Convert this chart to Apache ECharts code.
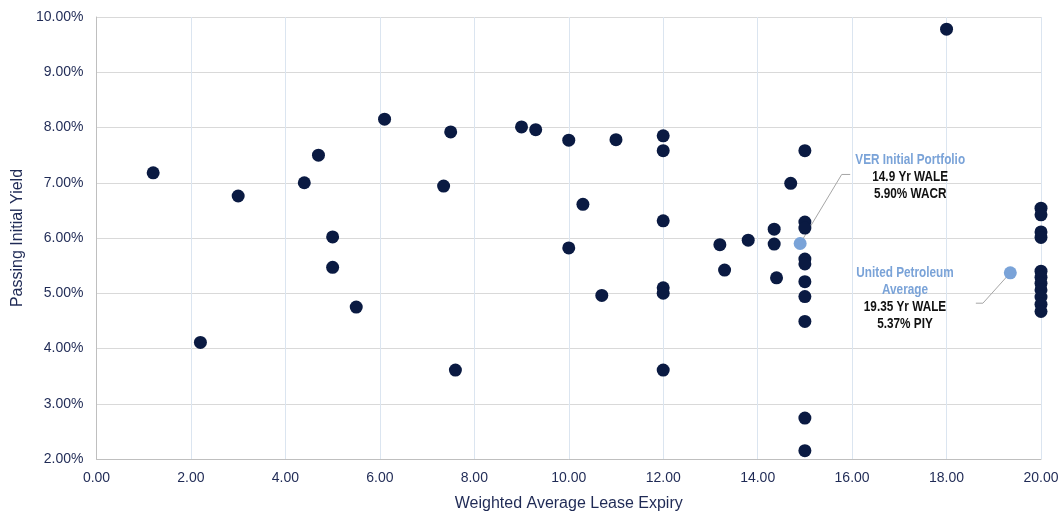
<!DOCTYPE html>
<html>
<head>
<meta charset="utf-8">
<script src="https://cdn.jsdelivr.net/npm/echarts@6/dist/echarts.min.js"></script>
<style>
html,body{margin:0;padding:0;background:#fff;}
#chart{width:1059px;height:513px;}
</style>
</head>
<body>
<div id="chart"></div>
<script>
// Weighted Average Lease Expiry (years)
const waleValues = [1.2, 2.2, 3.0, 4.4, 4.7, 5.0, 5.0, 5.5, 6.1, 7.5, 7.35, 7.6, 9.0, 9.3, 10.0, 10.0, 10.3, 10.7, 11.0,
  12.0, 12.0, 12.0, 12.0, 12.0, 12.0, 13.2, 13.3, 13.8, 14.35, 14.35, 14.4, 14.7,
  15, 15, 15, 15, 15, 15, 15, 15, 15, 15, 18.0,
  20, 20, 20, 20, 20, 20, 20, 20, 20, 20, 20];
// Passing Initial Yield (%)
const yieldValues = [7.18, 4.11, 6.76, 7.00, 7.50, 6.02, 5.47, 4.75, 8.15, 7.92, 6.94, 3.61, 8.01, 7.96, 7.77, 5.82, 6.61, 4.96, 7.78,
  7.85, 7.58, 6.31, 5.10, 5.00, 3.61, 5.88, 5.42, 5.96, 6.16, 5.89, 5.28, 6.99,
  7.58, 6.29, 6.18, 5.62, 5.53, 5.21, 4.94, 4.49, 2.74, 2.15, 9.78,
  6.54, 6.42, 6.11, 6.01, 5.40, 5.29, 5.18, 5.06, 4.93, 4.80, 4.67];

// Highlighted averages
const highlightNames = ['VER Initial Portfolio', 'United Petroleum Average'];
const highlightWale = [14.9, 19.35];
const highlightYield = [5.90, 5.37];

// Annotation texts
const verLines = ['VER Initial Portfolio', '14.9 Yr WALE', '5.90% WACR'];
const upLines = ['United Petroleum', 'Average', '19.35 Yr WALE', '5.37% PIY'];
// Annotation anchors (data coords)
const verAnchor = [17.23, 7.10];
const upAnchor = [17.12, 4.90];
// Leader lines (data coords)
const verLeader = [[14.9, 5.90], [15.78, 7.15], [15.96, 7.15]];
const upLeader = [[19.35, 5.37], [18.77, 4.82], [18.62, 4.82]];

// Axis ticks
const xMin = 0, xMax = 20, xStep = 2;
const yMin = 2, yMax = 10, yStep = 1;

const NAVY = '#0a1a42';
const LIGHT = '#7aa3d8';
const TXT = '#1f2a55';

const chart = echarts.init(document.getElementById('chart'), null, {renderer: 'canvas'});

const option = {
  animation: false,
  backgroundColor: '#fff',
  grid: {left: 96.5, right: 18, top: 17, bottom: 54, containLabel: false, outerBoundsMode: 'none'},
  xAxis: {
    type: 'value', min: xMin, max: xMax, interval: xStep,
    name: 'Weighted Average Lease Expiry', nameLocation: 'middle', nameGap: 37,
    nameTextStyle: {color: TXT, fontSize: 16, fontFamily: 'Liberation Sans, Arial, sans-serif'},
    axisLine: {show: true, lineStyle: {color: '#bfbfbf', width: 1}},
    axisTick: {show: false},
    axisLabel: {color: TXT, fontSize: 14, fontFamily: 'Liberation Sans, Arial, sans-serif', margin: 12,
      formatter: v => v.toFixed(2)},
    splitLine: {show: true, lineStyle: {color: '#dbe5f0', width: 1}}
  },
  yAxis: {
    type: 'value', min: yMin, max: yMax, interval: yStep,
    name: 'Passing Initial Yield', nameLocation: 'middle', nameGap: 71,
    nameTextStyle: {color: TXT, fontSize: 16, fontFamily: 'Liberation Sans, Arial, sans-serif'},
    axisLine: {show: true, lineStyle: {color: '#bfbfbf', width: 1}},
    axisTick: {show: false},
    axisLabel: {color: TXT, fontSize: 14, fontFamily: 'Liberation Sans, Arial, sans-serif', margin: 13,
      formatter: v => v.toFixed(2) + '%'},
    splitLine: {show: true, lineStyle: {color: '#d9d9d9', width: 1}}
  },
  series: [
    {
      type: 'line', data: verLeader, symbol: 'none', silent: true, z: 1,
      lineStyle: {color: '#a6a6a6', width: 1}
    },
    {
      type: 'line', data: upLeader, symbol: 'none', silent: true, z: 1,
      lineStyle: {color: '#a6a6a6', width: 1}
    },
    {
      type: 'scatter', name: 'Comparables', z: 3,
      symbolSize: 13,
      itemStyle: {color: NAVY, opacity: 1},
      data: waleValues.map((x, i) => [x, yieldValues[i]])
    },
    {
      type: 'scatter', name: 'Averages', z: 4,
      symbolSize: 13,
      itemStyle: {color: LIGHT, opacity: 1},
      data: highlightWale.map((x, i) => ({name: highlightNames[i], value: [x, highlightYield[i]]}))
    }
  ]
};
chart.setOption(option);

function annotation(anchor, lines, nTitle) {
  const p = chart.convertToPixel({gridIndex: 0}, anchor);
  const text = lines.map((l, i) => (i < nTitle ? '{t|' + l + '}' : '{b|' + l + '}')).join('\n');
  return {
    type: 'text', x: p[0], y: p[1], z: 10, scaleX: 0.84,
    style: {
      text: text, align: 'center', verticalAlign: 'middle',
      rich: {
        t: {fill: LIGHT, fontSize: 14, fontWeight: 'bold', fontFamily: 'Liberation Sans, Arial, sans-serif', lineHeight: 17},
        b: {fill: '#111111', fontSize: 14, fontWeight: 'bold', fontFamily: 'Liberation Sans, Arial, sans-serif', lineHeight: 17}
      }
    }
  };
}
chart.setOption({graphic: [annotation(verAnchor, verLines, 1), annotation(upAnchor, upLines, 2)]});
</script>
</body>
</html>
